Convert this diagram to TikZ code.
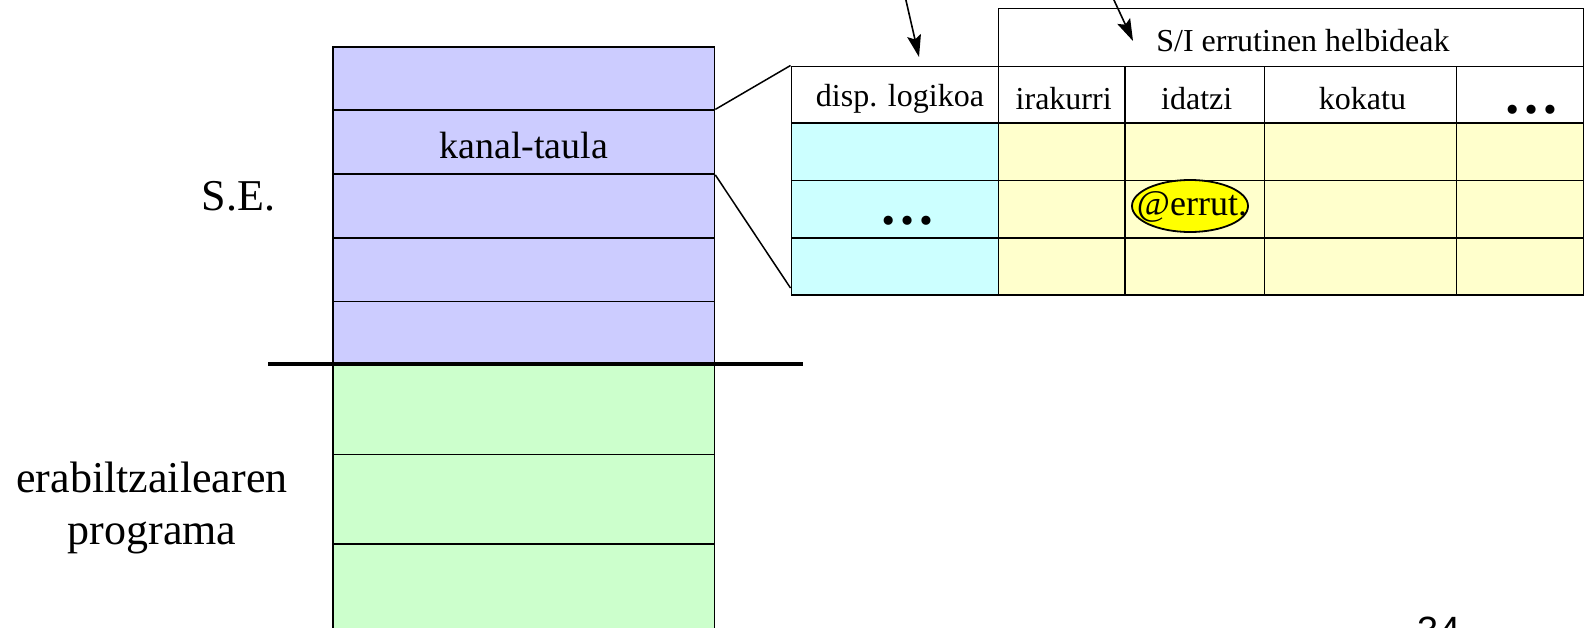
\documentclass[tikz,border=0pt]{standalone}
\usepackage{fontspec}
\setmainfont{Liberation Serif}
\newfontfamily\arialf{Liberation Sans}
\usetikzlibrary{arrows.meta,shapes.geometric,calc}
\definecolor{sePurple}{HTML}{CCCCFF}
\definecolor{usrGreen}{HTML}{CCFFCC}
\definecolor{cyanC}{HTML}{CCFFFF}
\definecolor{yelC}{HTML}{FFFFCC}
\definecolor{ellY}{HTML}{FFFF00}
\begin{document}
\begin{tikzpicture}[x=1pt,y=-1pt,
  stackcell/.style={draw, line width=1.8pt, minimum width=381.5pt, inner sep=0pt, anchor=north west},
  secell/.style={stackcell, fill=sePurple, minimum height=63.7pt},
  usrcell/.style={stackcell, fill=usrGreen, minimum height=89.3pt},
  tcell/.style={draw, line width=1.9pt, inner sep=0pt, anchor=north west},
  ttext/.style={font=\fontsize{32}{38}\selectfont, inner sep=0pt},
  bigtext/.style={font=\fontsize{44}{50}\selectfont, inner sep=0pt, align=center},
  dotstext/.style={font=\bfseries\fontsize{56}{60}\selectfont, inner sep=0pt},
  conn/.style={line width=1.5pt},
  ptr/.style={line width=1.6pt, -{Stealth[length=22pt,width=14pt,inset=4pt]}}
]
\clip (0,0) rectangle (1591,627);
\fill[white] (0,0) rectangle (1591,627);

% stack
\node[secell] (s1) at (332,45.7) {};
\node[secell] (s2) at (332,109.4) {};
\node[secell] (s3) at (332,173.1) {};
\node[secell] (s4) at (332,236.8) {};
\node[secell] (s5) at (332,300.5) {};
\node[usrcell] (u1) at (332,364.3) {};
\node[usrcell] (u2) at (332,453.6) {};
\node[usrcell] (u3) at (332,542.9) {};
\node[font=\fontsize{38}{44}\selectfont, inner sep=0pt] (kanal) at ($(s2.center)+(0,3)$) {kanal-taula};

\coordinate (sepL) at (268,364.3);
\coordinate (sepR) at (803,364.3);
\draw[line width=4pt] (sepL) -- (sepR);

\node[bigtext] (selab) at (238.5,196) {S.E.};
\node[bigtext] (userlab) at (152,508) {erabiltzailearen\\[2pt]programa};

% table
\node[tcell, fill=white, minimum width=585pt, minimum height=58pt] (hdr) at (997.5,7.5) {};
\node[ttext] (hdrtext) at ($(hdr.center)+(12,3)$) {S/I errutinen helbideak};
\foreach \c/\x/\w/\col in {1/790.5/207/cyanC, 2/997.5/126.5/yelC, 3/1124/139.5/yelC, 4/1263.5/192/yelC, 5/1455.5/127/yelC} {
  \node[tcell, fill=white, minimum width=\w pt, minimum height=56.5pt] (h\c) at (\x,65.5) {};
  \foreach \r/\y/\h in {1/122/57.5, 2/179.5/57.5, 3/237/57}
    \node[tcell, fill=\col, minimum width=\w pt, minimum height=\h pt] (t\r\c) at (\x,\y) {};
}
\node[ttext] (lh1) at ($(h1.center)+(5,4)$) {disp. logikoa};
\node[ttext] (lh2) at ($(h2.center)+(2,4)$) {irakurri};
\node[ttext] (lh3) at ($(h3.center)+(2,4)$) {idatzi};
\node[ttext] (lh4) at ($(h4.center)+(2,4)$) {kokatu};
\node[dotstext] (dh5) at (1531,110) {…};
\node[dotstext] (dc1) at (907,221) {…};
\node[ellipse, draw, line width=1.8pt, fill=ellY, minimum width=116pt, minimum height=52pt, inner sep=0pt] (errut) at (1190,206) {};
\node[font=\fontsize{36}{40}\selectfont, inner sep=0pt] (errutxt) at (1192,207) {@errut.};

% connectors stack -> table
\coordinate (conB) at (790.5,288);
\draw[conn] (s2.north east) -- (h1.north west);
\draw[conn] (s2.south east) -- (conB);

% pointer arrows from above
\coordinate (pA) at (899,-30);
\coordinate (pAt) at (919,57);
\coordinate (pB) at (1100,-30);
\coordinate (pBt) at (1133,41);
\draw[ptr] (pA) -- (pAt);
\draw[ptr] (pB) -- (pBt);

% page number (cut off at the bottom edge as in the original)
\node[font=\arialf\fontsize{38}{42}\selectfont, anchor=north, inner sep=0pt] (pg) at (1439,617) {34};
\end{tikzpicture}
\end{document}
